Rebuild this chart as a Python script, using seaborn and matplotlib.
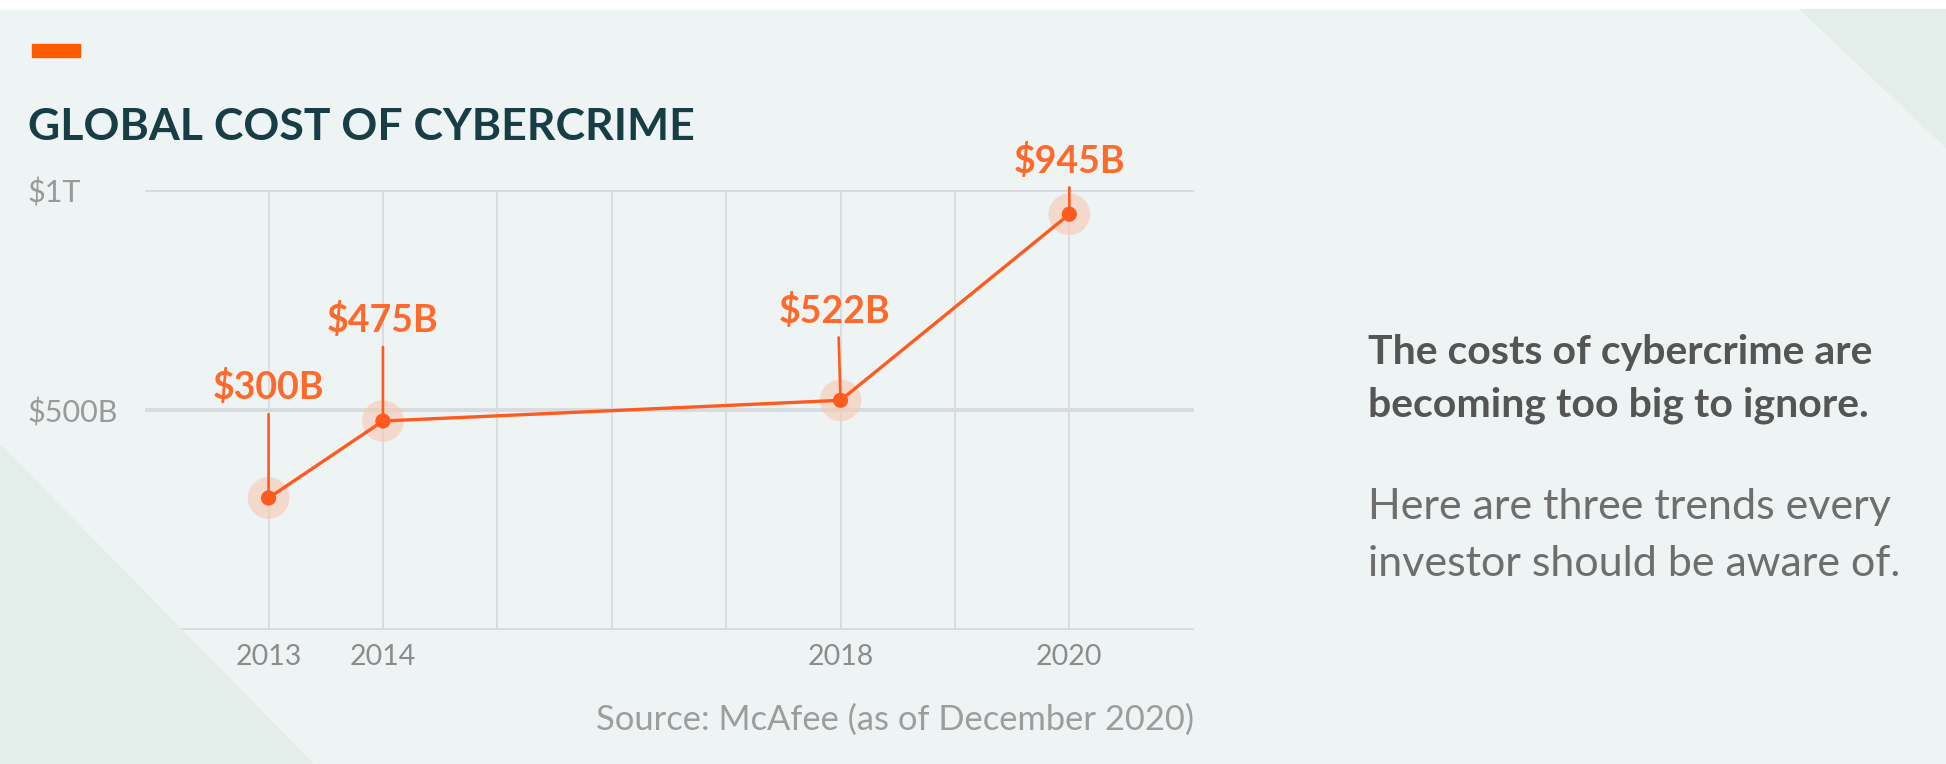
import matplotlib
matplotlib.use("Agg")
import matplotlib.pyplot as plt
from matplotlib.patches import Polygon, Rectangle
import seaborn as sns

# --- data ---
years = [2013, 2014, 2018, 2020]
cost_b = [300, 475, 522, 945]          # billions of USD
value_labels = ["$300B", "$475B", "$522B", "$945B"]
grid_years = [2013, 2014, 2015, 2016, 2017, 2018, 2019, 2020]
ytick_vals = [0, 500, 1000]
ytick_text = ["0", "$500B", "$1T"]

title = "GLOBAL COST OF CYBERCRIME"
source = "Source: McAfee (as of December 2020)"
side_bold = ["The costs of cybercrime are", "becoming too big to ignore."]
side_plain = ["Here are three trends every", "investor should be aware of."]

# label offsets above each point (points) -- style only
label_dy = [71, 64, 56, 30]
label_dx = [0, 0, -4, 0]

ORANGE = "#ff5a1f"
HALO = "#f7c9b2"
BG = "#eef3f4"
TRI = "#e3eeea"
GRID = "#d8dadd"
TEAL = "#173d45"
GREY = "#9a9a9a"

sns.set_style("white")
plt.rcParams["font.family"] = ["Lato", "DejaVu Sans"]

W, H = 1946, 764
fig = plt.figure(figsize=(W / 100, H / 100), dpi=100)
fig.patch.set_facecolor(BG)

# background decoration
fig.patches.append(Rectangle((0, 1 - 9 / H), 1, 9 / H, transform=fig.transFigure,
                             color="white", zorder=0))
fig.patches.append(Polygon([(0, 1 - 445 / H), (0, 0), (313 / W, 0)], closed=True,
                           transform=fig.transFigure, color=TRI, zorder=0))
fig.patches.append(Polygon([(1800 / W, 1 - 9 / H), (1, 1 - 9 / H), (1, 1 - 147 / H)],
                           closed=True, transform=fig.transFigure, color=TRI, zorder=0))
fig.patches.append(Rectangle((32 / W, 1 - 57 / H), 48 / W, 13 / H, transform=fig.transFigure,
                             color="#ff5a00", zorder=1))

ax = fig.add_axes([145 / W, 1 - 630 / H, (1194 - 145) / W, 440 / H])
ax.set_facecolor("none")

# grid
for y in ytick_vals:
    ax.axhline(y, color=GRID, lw=2.8, zorder=1)
for x in grid_years:
    ax.axvline(x, color=GRID, lw=1.3, zorder=1)

# halo, line and points
sns.scatterplot(x=years, y=cost_b, s=900, color=HALO, alpha=0.6, edgecolor="none",
                ax=ax, zorder=2, legend=False)
sns.lineplot(x=years, y=cost_b, color=ORANGE, lw=2.4, ax=ax, zorder=3)
sns.scatterplot(x=years, y=cost_b, s=120, color=ORANGE, edgecolor="none",
                ax=ax, zorder=4, legend=False)

for xv, yv, lab, dy, dx in zip(years, cost_b, value_labels, label_dy, label_dx):
    ax.annotate(lab, xy=(xv, yv), xytext=(dx, dy), textcoords="offset points",
                ha="center", va="baseline", fontsize=27, fontweight="bold",
                color="#ff6a2c", annotation_clip=False,
                arrowprops=dict(arrowstyle="-", color=ORANGE, lw=1.9,
                                shrinkA=4, shrinkB=0, relpos=(0.5 - dx / 130, 0)))

ax.set_xlim(2011.92, 2021.09)
ax.set_ylim(0, 1000)
ax.set_xticks(years)
ax.set_xticklabels([str(y) for y in years])
ax.set_yticks(ytick_vals)
ax.set_yticklabels(ytick_text)
for t in ax.get_yticklabels():
    t.set_horizontalalignment("left")
ax.tick_params(axis="y", length=0, pad=85, labelsize=22, labelcolor=GREY)
ax.tick_params(axis="x", length=0, pad=10, labelsize=20.5, labelcolor="#8c8c8c")
sns.despine(ax=ax, left=True, bottom=True)
ax.set_xlabel("")
ax.set_ylabel("")

fig.text(28 / W, 1 - 140 / H, title, fontsize=32, fontweight="bold", color=TEAL,
         va="baseline", ha="left")
fig.text(1194 / W, 1 - 730 / H, source, fontsize=24.8, color="#9d9d9d",
         ha="right", va="baseline")

bases = [364, 416, 519, 576]
for txt, b in zip(side_bold, bases[:2]):
    fig.text(1368 / W, 1 - b / H, txt, fontsize=29.5, fontweight="bold", color="#555555",
             ha="left", va="baseline")
for txt, b in zip(side_plain, bases[2:]):
    fig.text(1368 / W, 1 - b / H, txt, fontsize=31, color="#6e6e6e",
             ha="left", va="baseline")

fig.savefig("out.png", dpi=100, facecolor=fig.get_facecolor())
